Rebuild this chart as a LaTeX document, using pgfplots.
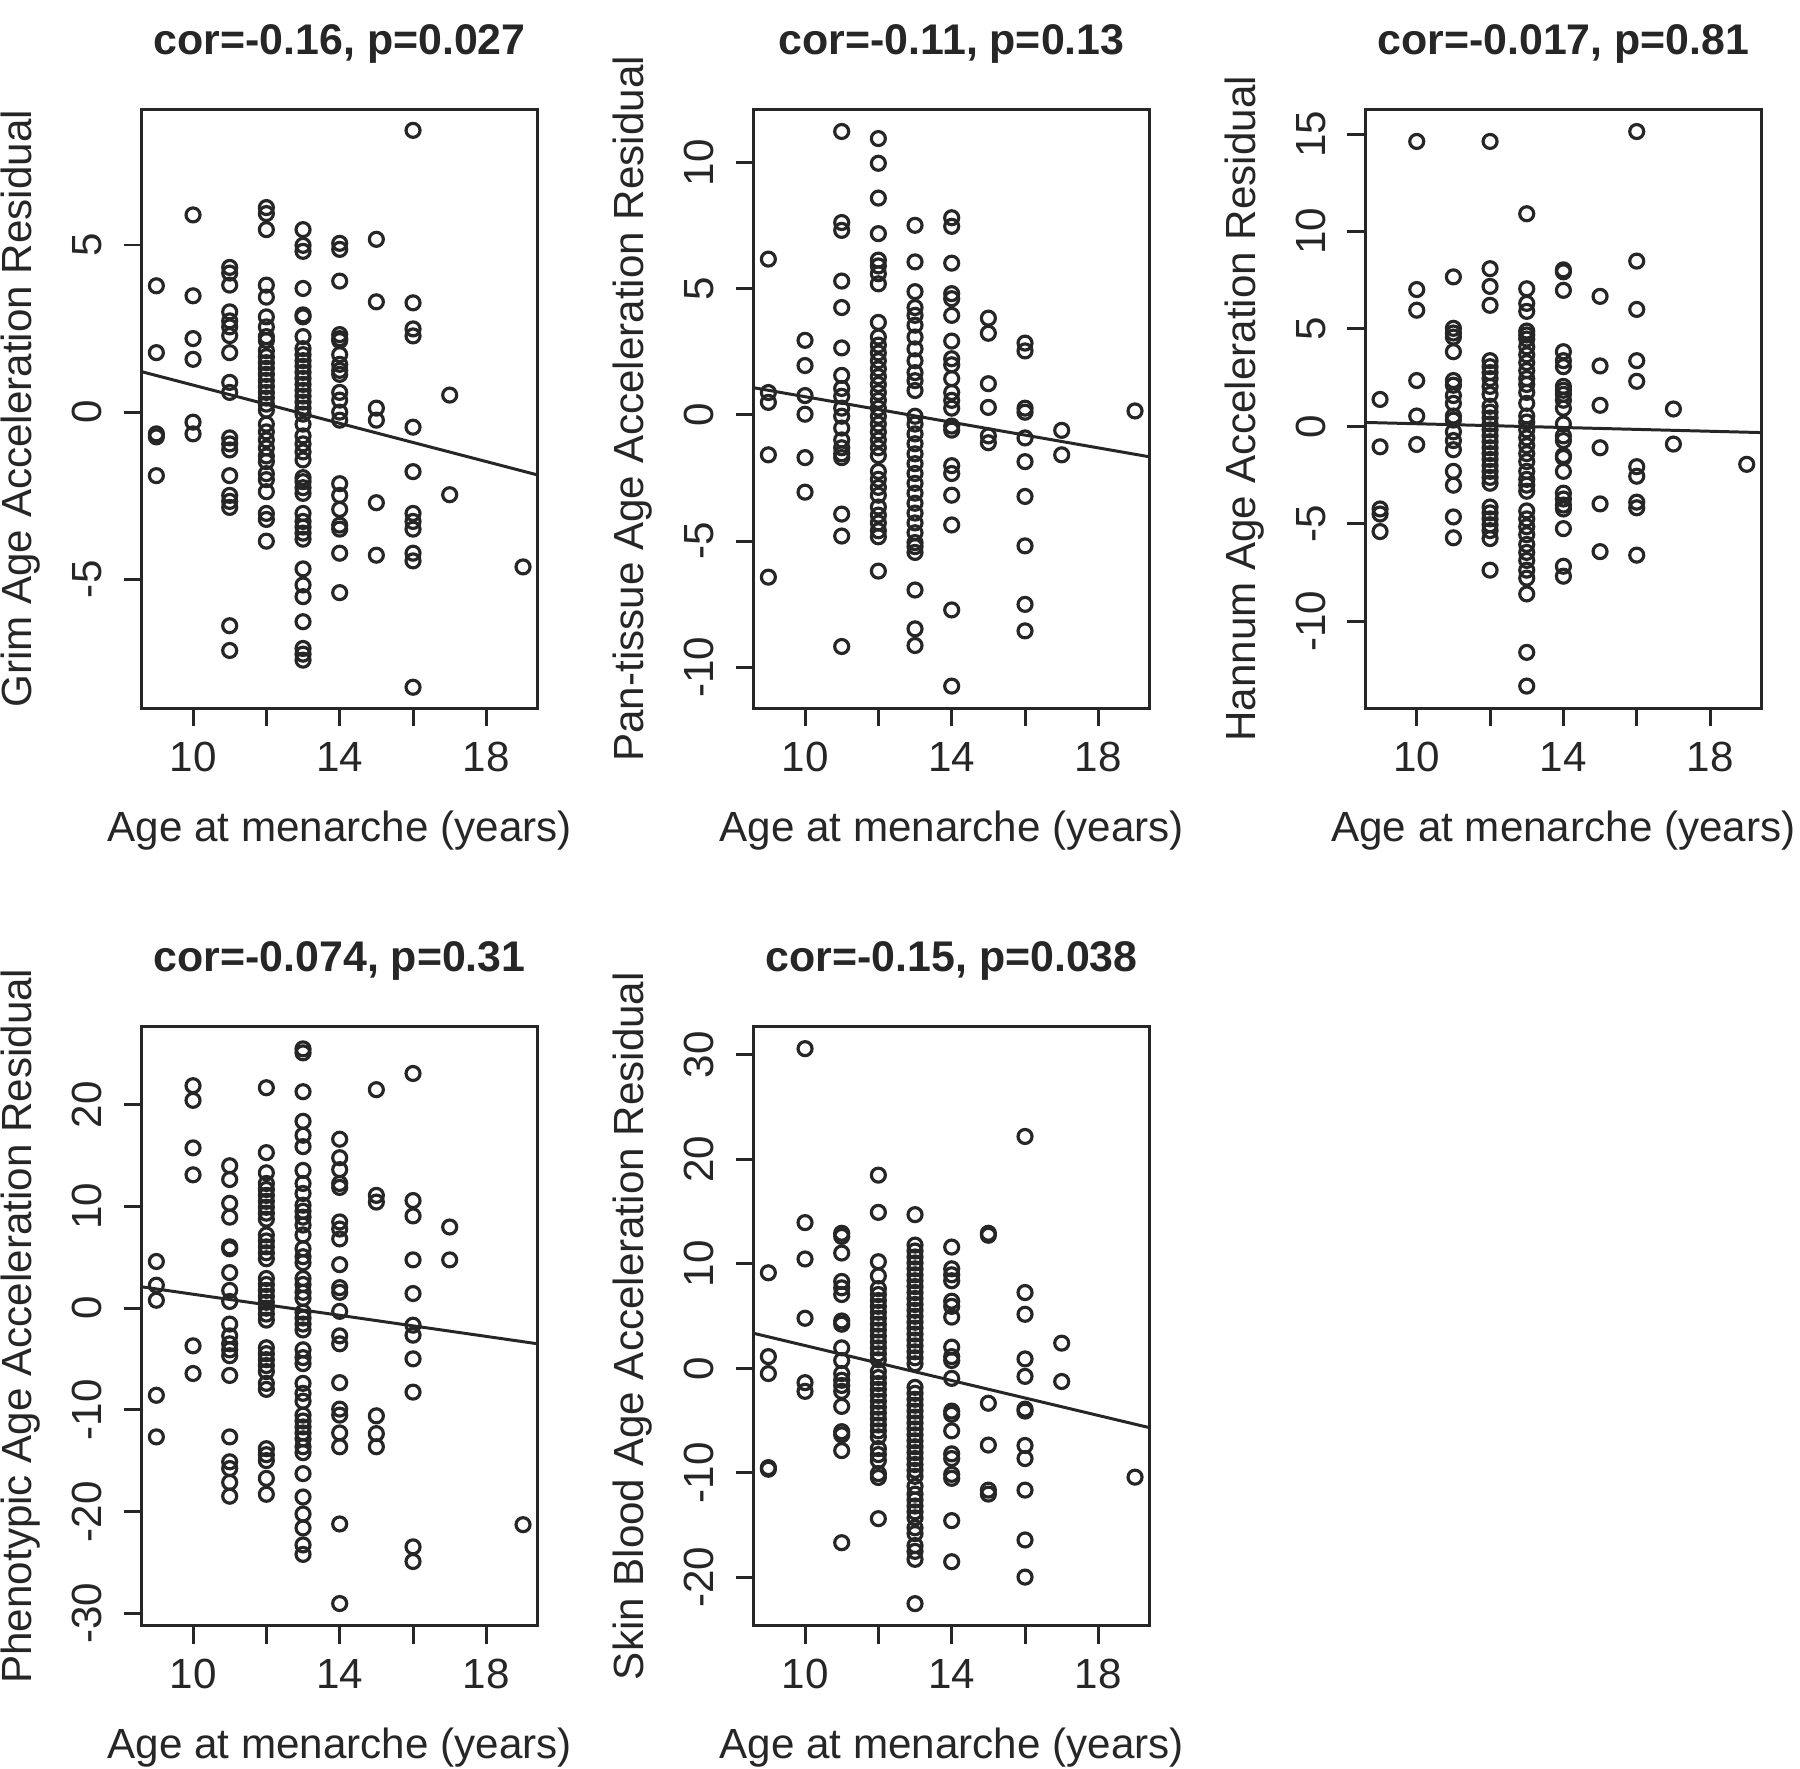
\documentclass[border=0pt]{standalone}
\usepackage{fontspec}
\setmainfont{Liberation Sans}
\usepackage{pgfplots}
\pgfplotsset{compat=1.18}
\definecolor{ink}{HTML}{262626}
\pgfplotsset{
 panel/.style={
  scale only axis, width=39.6mm, height=59.9mm,
  anchor=south west,
  xmin=8.6, xmax=19.4,
  xtick={10,12,14,16,18}, xticklabels={10,,14,,18},
  tick pos=left, tick align=outside, major tick length=1.8mm,
  axis line style={ink, line width=0.85pt},
  every tick/.style={ink, line width=0.85pt},
  /pgf/number format/assume math mode=true,
  tick label style={font=\fontsize{12}{14}\selectfont, text=ink},
  label style={font=\fontsize{12}{14}\selectfont, text=ink},
  xticklabel style={anchor=base, yshift=-4.5mm},
  yticklabel style={xshift=-2.2mm, rotate=90, anchor=base},
  title style={at={(axis description cs:0.5,1.0568)}, anchor=base, font=\fontsize{12.2}{14}\selectfont\bfseries, text=ink},
  xlabel style={at={(axis description cs:0.5,-0.222)}, anchor=base},
  ylabel style={at={(axis description cs:-0.2778,0.5)}, anchor=base},
  xlabel={Age at menarche (years)},
 },
 pts/.style={only marks, mark=o, mark size=0.7mm, ink, mark options={line width=0.9pt}},
 fit/.style={ink, line width=0.85pt, no marks},
}
\begin{document}
\begin{tikzpicture}
\useasboundingbox (0,0) rectangle (180mm,176.8mm);
% Panel 1: Grim
\begin{axis}[panel, at={(14.17mm,105.97mm)}, ymin=-8.86, ymax=9.06, ytick={-5,0,5},
  title={cor=-0.16, p=0.027}, ylabel={Grim Age Acceleration Residual}]
\addplot[pts] coordinates {
(9,3.78)(9,1.78)(9,-0.65)(9,-0.74)(9,-1.9)
(10,5.9)(10,3.48)(10,2.2)(10,1.58)(10,-0.3)(10,-0.65)
(11,4.33)(11,4.16)(11,3.8)(11,3.0)(11,2.73)(11,2.55)(11,2.29)(11,1.78)(11,0.89)(11,0.59)(11,-0.77)(11,-0.95)(11,-1.13)(11,-1.9)(11,-2.49)(11,-2.67)(11,-2.85)(11,-6.39)(11,-7.13)
(12,6.12)(12,5.94)(12,5.46)(12,3.8)(12,3.44)(12,2.85)(12,2.55)(12,2.26)(12,2.14)(12,1.84)(12,1.66)(12,1.48)(12,1.31)(12,1.13)(12,0.95)(12,0.77)(12,0.59)(12,0.42)(12,0.24)(12,0.06)(12,-0.36)(12,-0.59)(12,-0.83)(12,-1.07)(12,-1.31)(12,-1.48)(12,-1.84)(12,-2.02)(12,-2.38)(12,-3.03)(12,-3.21)(12,-3.86)
(13,5.46)(13,4.99)(13,4.81)(13,3.7)(13,2.91)(13,2.85)(13,2.26)(13,1.9)(13,1.72)(13,1.54)(13,1.37)(13,1.19)(13,1.01)(13,0.83)(13,0.65)(13,0.48)(13,0.3)(13,0.12)(13,-0.06)(13,-0.36)(13,-0.71)(13,-0.95)(13,-1.19)(13,-1.43)(13,-1.96)(13,-2.08)(13,-2.26)(13,-2.43)(13,-3.03)(13,-3.27)(13,-3.44)(13,-3.62)(13,-3.8)(13,-4.69)(13,-5.17)(13,-5.52)(13,-6.27)(13,-7.07)(13,-7.24)(13,-7.42)
(14,5.05)(14,4.87)(14,3.92)(14,2.32)(14,2.2)(14,2.14)(14,1.72)(14,1.43)(14,1.25)(14,1.13)(14,0.59)(14,0.36)(14,0)(14,-0.24)(14,-2.14)(14,-2.49)(14,-2.91)(14,-3.38)(14,-3.5)(14,-4.22)(14,-5.4)
(15,5.17)(15,3.3)(15,0.12)(15,-0.24)(15,-2.71)(15,-4.28)
(16,8.43)(16,3.27)(16,2.49)(16,2.28)(16,-0.45)(16,-1.78)(16,-3.03)(16,-3.27)(16,-3.5)(16,-4.22)(16,-4.45)(16,-8.23)
(17,0.51)(17,-2.47)
(19,-4.63)
};
\addplot[fit] coordinates {(8.6,1.21)(19.4,-1.88)};
\end{axis}
% Panel 2: Pan-tissue
\begin{axis}[panel, at={(75.37mm,105.97mm)}, ymin=-11.63, ymax=12.12, ytick={-10,-5,0,5,10},
  title={cor=-0.11, p=0.13}, ylabel={Pan-tissue Age Acceleration Residual}]
\addplot[pts] coordinates {
(9,6.18)(9,0.89)(9,0.5)(9,-1.58)(9,-6.43)
(10,2.96)(10,1.96)(10,0.77)(10,0.03)(10,-1.69)(10,-3.06)
(11,11.24)(11,7.63)(11,7.32)(11,5.31)(11,4.26)(11,2.66)(11,1.57)(11,1.05)(11,0.74)(11,0.27)(11,-0.05)(11,-0.52)(11,-0.99)(11,-1.3)(11,-1.54)(11,-1.69)(11,-3.93)(11,-4.8)(11,-9.18)
(12,10.96)(12,9.98)(12,8.6)(12,7.19)(12,6.14)(12,5.91)(12,5.6)(12,5.2)(12,3.67)(12,3.09)(12,2.77)(12,2.46)(12,2.15)(12,1.83)(12,1.52)(12,1.21)(12,0.89)(12,0.58)(12,0.27)(12,-0.05)(12,-0.36)(12,-0.67)(12,-0.99)(12,-1.3)(12,-1.61)(12,-2.24)(12,-2.55)(12,-2.87)(12,-3.18)(12,-3.65)(12,-3.97)(12,-4.28)(12,-4.59)(12,-4.83)(12,-6.19)
(13,7.52)(13,6.07)(13,4.89)(13,4.26)(13,3.95)(13,3.56)(13,3.09)(13,2.62)(13,2.15)(13,1.68)(13,1.36)(13,0.97)(13,-0.05)(13,-0.36)(13,-0.75)(13,-1.14)(13,-1.54)(13,-1.93)(13,-2.32)(13,-2.71)(13,-3.1)(13,-3.5)(13,-3.89)(13,-4.28)(13,-4.67)(13,-5.06)(13,-5.22)(13,-5.45)(13,-6.94)(13,-8.48)(13,-9.14)
(14,7.82)(14,7.48)(14,6.02)(14,4.81)(14,4.61)(14,3.95)(14,2.93)(14,2.23)(14,1.99)(14,1.44)(14,0.89)(14,0.58)(14,0.27)(14,-0.44)(14,-0.6)(14,-2.01)(14,-2.32)(14,-3.18)(14,-4.36)(14,-7.73)(14,-10.75)
(15,3.84)(15,3.24)(15,1.24)(15,0.3)(15,-0.83)(15,-1.1)
(16,2.85)(16,2.54)(16,0.27)(16,0.11)(16,-0.91)(16,-1.85)(16,-3.23)(16,-5.19)(16,-7.51)(16,-8.56)
(17,-0.61)(17,-1.58)
(19,0.16)
};
\addplot[fit] coordinates {(8.6,1.08)(19.4,-1.66)};
\end{axis}
% Panel 3: Hannum
\begin{axis}[panel, at={(136.54mm,105.97mm)}, ymin=-14.47, ymax=16.27, ytick={-10,-5,0,5,10,15},
  title={cor=-0.017, p=0.81}, ylabel={Hannum Age Acceleration Residual}]
\addplot[pts] coordinates {
(9,1.38)(9,-1.05)(9,-4.24)(9,-4.5)(9,-5.4)
(10,14.62)(10,7.02)(10,5.96)(10,2.35)(10,0.53)(10,-0.93)
(11,7.67)(11,5.03)(11,4.79)(11,4.58)(11,3.83)(11,2.35)(11,2.11)(11,1.58)(11,1.18)(11,0.53)(11,0.32)(11,-0.28)(11,-0.73)(11,-1.2)(11,-2.31)(11,-3.02)(11,-4.65)(11,-5.72)
(12,14.62)(12,8.09)(12,7.18)(12,6.21)(12,3.37)(12,3.06)(12,2.76)(12,2.45)(12,2.05)(12,1.64)(12,1.03)(12,0.73)(12,0.43)(12,0.12)(12,-0.18)(12,-0.49)(12,-0.79)(12,-1.1)(12,-1.4)(12,-1.7)(12,-2.01)(12,-2.31)(12,-2.62)(12,-2.92)(12,-4.14)(12,-4.44)(12,-4.75)(12,-5.05)(12,-5.35)(12,-5.76)(12,-7.38)
(13,10.91)(13,7.06)(13,6.31)(13,5.9)(13,4.89)(13,4.69)(13,4.48)(13,4.08)(13,3.67)(13,3.27)(13,2.86)(13,2.45)(13,2.15)(13,1.74)(13,1.18)(13,0.53)(13,0.22)(13,-0.18)(13,-0.59)(13,-0.99)(13,-1.4)(13,-1.81)(13,-2.31)(13,-2.72)(13,-3.02)(13,-3.33)(13,-4.34)(13,-4.75)(13,-5.15)(13,-5.56)(13,-6.06)(13,-6.47)(13,-6.88)(13,-7.38)(13,-7.79)(13,-8.6)(13,-11.6)(13,-13.33)
(14,8.03)(14,7.93)(14,6.98)(14,3.83)(14,3.37)(14,3.06)(14,2.05)(14,1.85)(14,1.64)(14,1.34)(14,0.93)(14,0.12)(14,-0.49)(14,-0.73)(14,-1.5)(14,-1.6)(14,-2.31)(14,-3.43)(14,-3.73)(14,-4.04)(14,-4.24)(14,-5.25)(14,-7.18)(14,-7.69)
(15,6.67)(15,3.1)(15,1.08)(15,-1.1)(15,-3.98)(15,-6.43)
(16,15.13)(16,8.48)(16,6.0)(16,3.37)(16,2.31)(16,-2.07)(16,-2.56)(16,-3.89)(16,-4.18)(16,-6.61)
(17,0.89)(17,-0.91)
(19,-1.95)
};
\addplot[fit] coordinates {(8.6,0.2)(19.4,-0.32)};
\end{axis}
% Panel 4: Phenotypic
\begin{axis}[panel, at={(14.17mm,14.24mm)}, ymin=-31.2, ymax=27.68, ytick={-30,-20,-10,0,10,20},
  title={cor=-0.074, p=0.31}, ylabel={Phenotypic Age Acceleration Residual}]
\addplot[pts] coordinates {
(9,4.59)(9,2.26)(9,0.78)(9,-8.56)(9,-12.65)
(10,21.87)(10,20.43)(10,15.76)(10,13.11)(10,-3.7)(10,-6.42)
(11,14.0)(11,12.65)(11,10.31)(11,8.95)(11,6.03)(11,5.84)(11,3.5)(11,1.75)(11,0.66)(11,-1.56)(11,-2.72)(11,-3.5)(11,-4.09)(11,-4.67)(11,-6.61)(11,-12.65)(11,-15.1)(11,-15.76)(11,-17.12)(11,-18.48)
(12,21.67)(12,15.29)(12,13.31)(12,12.26)(12,11.67)(12,11.09)(12,10.51)(12,9.92)(12,9.34)(12,8.75)(12,7.2)(12,6.61)(12,6.03)(12,5.45)(12,4.86)(12,2.92)(12,2.33)(12,1.75)(12,1.17)(12,0.58)(12,0)(12,-0.58)(12,-1.17)(12,-3.89)(12,-4.47)(12,-5.06)(12,-5.64)(12,-6.23)(12,-7.39)(12,-7.98)(12,-13.81)(12,-14.4)(12,-14.98)(12,-16.73)(12,-18.29)
(13,25.49)(13,25.1)(13,21.28)(13,18.37)(13,17.0)(13,15.88)(13,13.54)(13,12.26)(13,11.28)(13,10.12)(13,9.53)(13,8.95)(13,8.17)(13,7.2)(13,5.84)(13,5.06)(13,4.47)(13,2.92)(13,2.33)(13,1.56)(13,0.97)(13,-0.39)(13,-0.97)(13,-1.56)(13,-2.14)(13,-4.09)(13,-4.86)(13,-5.45)(13,-7.39)(13,-8.37)(13,-9.14)(13,-10.51)(13,-11.09)(13,-11.67)(13,-12.26)(13,-12.84)(13,-13.62)(13,-14.2)(13,-16.26)(13,-18.56)(13,-20.23)(13,-21.6)(13,-23.27)(13,-24.2)
(14,16.61)(14,14.79)(14,13.62)(14,12.26)(14,11.87)(14,8.48)(14,7.78)(14,6.81)(14,4.28)(14,2.02)(14,1.56)(14,-0.31)(14,-2.72)(14,-3.5)(14,-7.32)(14,-9.92)(14,-10.51)(14,-12.26)(14,-13.62)(14,-21.21)(14,-29.03)
(15,21.48)(15,11.09)(15,10.43)(15,-10.58)(15,-12.33)(15,-13.62)
(16,23.07)(16,10.58)(16,9.07)(16,4.75)(16,1.44)(16,-1.67)(16,-2.65)(16,-4.98)(16,-8.25)(16,-23.46)(16,-24.9)
(17,7.98)(17,4.75)
(19,-21.28)
};
\addplot[fit] coordinates {(8.6,2.1)(19.4,-3.5)};
\end{axis}
% Panel 5: Skin Blood
\begin{axis}[panel, at={(75.37mm,14.24mm)}, ymin=-24.6, ymax=32.7, ytick={-20,-10,0,10,20,30},
  title={cor=-0.15, p=0.038}, ylabel={Skin Blood Age Acceleration Residual}]
\addplot[pts] coordinates {
(9,9.15)(9,1.13)(9,-0.49)(9,-9.49)(9,-9.64)
(10,30.59)(10,13.95)(10,10.47)(10,4.8)(10,-1.36)(10,-2.19)
(11,12.93)(11,12.63)(11,11.04)(11,8.32)(11,7.71)(11,7.07)(11,4.54)(11,4.23)(11,1.97)(11,0.76)(11,-0.49)(11,-1.13)(11,-1.63)(11,-2.19)(11,-3.63)(11,-6.05)(11,-6.35)(11,-7.86)(11,-16.67)
(12,18.49)(12,14.93)(12,10.21)(12,8.85)(12,7.64)(12,7.07)(12,6.5)(12,5.94)(12,5.37)(12,4.8)(12,4.23)(12,3.67)(12,3.1)(12,2.53)(12,1.97)(12,1.4)(12,0.83)(12,-0.3)(12,-0.87)(12,-1.44)(12,-2.0)(12,-2.57)(12,-3.14)(12,-3.71)(12,-4.27)(12,-4.84)(12,-5.41)(12,-5.97)(12,-6.54)(12,-7.67)(12,-8.24)(12,-8.81)(12,-10.06)(12,-10.43)(12,-14.37)
(13,14.71)(13,11.8)(13,11.23)(13,10.66)(13,10.09)(13,9.53)(13,8.96)(13,8.39)(13,7.83)(13,7.26)(13,6.69)(13,6.12)(13,5.56)(13,4.99)(13,4.42)(13,3.86)(13,3.29)(13,2.72)(13,2.16)(13,1.59)(13,1.02)(13,0.45)(13,-1.81)(13,-2.38)(13,-2.95)(13,-3.52)(13,-4.08)(13,-4.65)(13,-5.22)(13,-5.78)(13,-6.35)(13,-6.92)(13,-7.49)(13,-8.05)(13,-8.62)(13,-9.19)(13,-9.75)(13,-10.32)(13,-11.27)(13,-12.02)(13,-12.59)(13,-13.16)(13,-13.72)(13,-14.29)(13,-15.24)(13,-15.8)(13,-16.94)(13,-17.5)(13,-18.26)(13,-22.5)
(14,11.61)(14,9.53)(14,8.96)(14,8.39)(14,6.43)(14,5.94)(14,4.91)(14,2.04)(14,1.13)(14,0.76)(14,-0.95)(14,-4.08)(14,-4.39)(14,-5.97)(14,-8.17)(14,-8.62)(14,-10.13)(14,-10.51)(14,-14.56)(14,-18.49)
(15,12.93)(15,12.74)(15,-3.33)(15,-7.33)(15,-11.64)(15,-12.02)
(16,22.19)(16,7.26)(16,5.18)(16,0.91)(16,-0.76)(16,-3.89)(16,-4.08)(16,-7.37)(16,-8.62)(16,-11.64)(16,-16.41)(16,-19.96)
(17,2.42)(17,-1.25)
(19,-10.4)
};
\addplot[fit] coordinates {(8.6,3.36)(19.4,-5.67)};
\end{axis}
\end{tikzpicture}
\end{document}
